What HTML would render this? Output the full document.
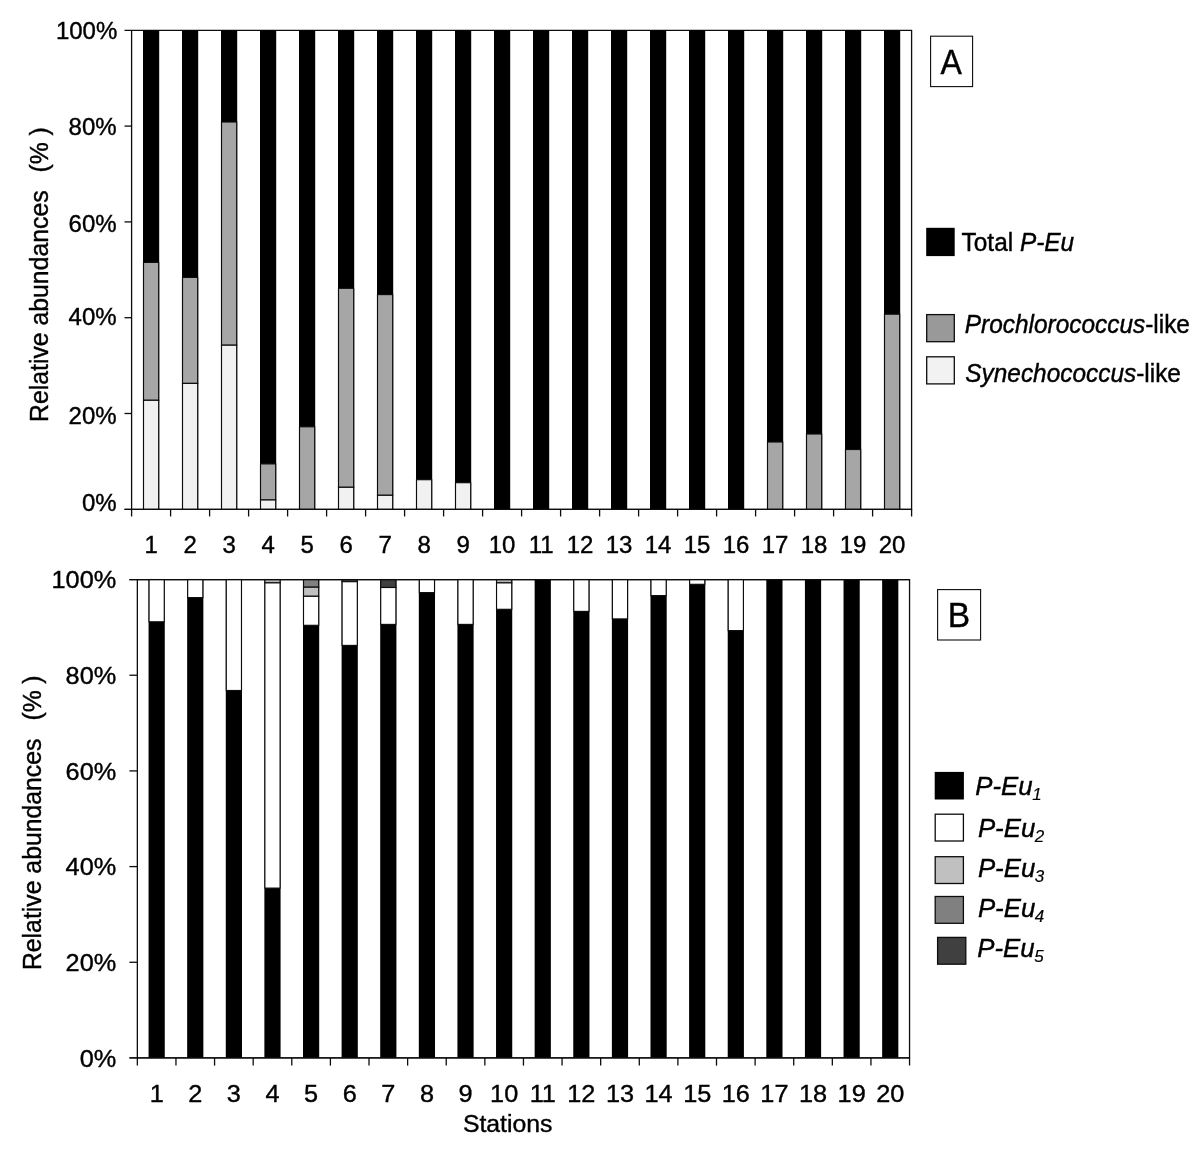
<!DOCTYPE html>
<html lang="en">
<head>
<meta charset="utf-8">
<title>Relative abundances by station</title>
<style>
html,body{margin:0;padding:0;background:#fff;}
body{width:1200px;height:1155px;overflow:hidden;}
svg{display:block;}
svg text{font-family:"Liberation Sans",sans-serif;fill:#000;stroke:#000;stroke-width:0.4px;}
</style>
</head>
<body>
<svg width="1200" height="1155" viewBox="0 0 1200 1155">
<rect x="0" y="0" width="1200" height="1155" fill="#fff"/>
<g id="panelA">
<line x1="124.5" y1="30.3" x2="912.1" y2="30.3" stroke="#0c0c0c" stroke-width="1.3"/>
<line x1="124.5" y1="126.1" x2="131.6" y2="126.1" stroke="#0c0c0c" stroke-width="1.3"/>
<line x1="124.5" y1="221.9" x2="131.6" y2="221.9" stroke="#0c0c0c" stroke-width="1.3"/>
<line x1="124.5" y1="317.7" x2="131.6" y2="317.7" stroke="#0c0c0c" stroke-width="1.3"/>
<line x1="124.5" y1="413.5" x2="131.6" y2="413.5" stroke="#0c0c0c" stroke-width="1.3"/>
<line x1="124.5" y1="509.3" x2="912.1" y2="509.3" stroke="#0c0c0c" stroke-width="1.3"/>
<line x1="131.6" y1="30.3" x2="131.6" y2="516.5" stroke="#0c0c0c" stroke-width="1.3"/>
<line x1="911.6" y1="30.3" x2="911.6" y2="516.5" stroke="#0c0c0c" stroke-width="1.3"/>
<line x1="170.6" y1="509.3" x2="170.6" y2="516.5" stroke="#0c0c0c" stroke-width="1.3"/>
<line x1="209.6" y1="509.3" x2="209.6" y2="516.5" stroke="#0c0c0c" stroke-width="1.3"/>
<line x1="248.6" y1="509.3" x2="248.6" y2="516.5" stroke="#0c0c0c" stroke-width="1.3"/>
<line x1="287.6" y1="509.3" x2="287.6" y2="516.5" stroke="#0c0c0c" stroke-width="1.3"/>
<line x1="326.6" y1="509.3" x2="326.6" y2="516.5" stroke="#0c0c0c" stroke-width="1.3"/>
<line x1="365.6" y1="509.3" x2="365.6" y2="516.5" stroke="#0c0c0c" stroke-width="1.3"/>
<line x1="404.6" y1="509.3" x2="404.6" y2="516.5" stroke="#0c0c0c" stroke-width="1.3"/>
<line x1="443.6" y1="509.3" x2="443.6" y2="516.5" stroke="#0c0c0c" stroke-width="1.3"/>
<line x1="482.6" y1="509.3" x2="482.6" y2="516.5" stroke="#0c0c0c" stroke-width="1.3"/>
<line x1="521.6" y1="509.3" x2="521.6" y2="516.5" stroke="#0c0c0c" stroke-width="1.3"/>
<line x1="560.6" y1="509.3" x2="560.6" y2="516.5" stroke="#0c0c0c" stroke-width="1.3"/>
<line x1="599.6" y1="509.3" x2="599.6" y2="516.5" stroke="#0c0c0c" stroke-width="1.3"/>
<line x1="638.6" y1="509.3" x2="638.6" y2="516.5" stroke="#0c0c0c" stroke-width="1.3"/>
<line x1="677.6" y1="509.3" x2="677.6" y2="516.5" stroke="#0c0c0c" stroke-width="1.3"/>
<line x1="716.6" y1="509.3" x2="716.6" y2="516.5" stroke="#0c0c0c" stroke-width="1.3"/>
<line x1="755.6" y1="509.3" x2="755.6" y2="516.5" stroke="#0c0c0c" stroke-width="1.3"/>
<line x1="794.6" y1="509.3" x2="794.6" y2="516.5" stroke="#0c0c0c" stroke-width="1.3"/>
<line x1="833.6" y1="509.3" x2="833.6" y2="516.5" stroke="#0c0c0c" stroke-width="1.3"/>
<line x1="872.6" y1="509.3" x2="872.6" y2="516.5" stroke="#0c0c0c" stroke-width="1.3"/>
<rect x="143" y="30.3" width="16.2" height="479" fill="#000"/>
<rect x="143.5" y="262.4" width="15.2" height="137.9" fill="#a6a6a6" stroke="#0c0c0c" stroke-width="1.15"/>
<rect x="143.5" y="400.3" width="15.2" height="109" fill="#f1f1f1" stroke="#0c0c0c" stroke-width="1.15"/>
<rect x="182" y="30.3" width="16.2" height="479" fill="#000"/>
<rect x="182.5" y="277.4" width="15.2" height="106" fill="#a6a6a6" stroke="#0c0c0c" stroke-width="1.15"/>
<rect x="182.5" y="383.4" width="15.2" height="125.9" fill="#f1f1f1" stroke="#0c0c0c" stroke-width="1.15"/>
<rect x="221" y="30.3" width="16.2" height="479" fill="#000"/>
<rect x="221.5" y="122" width="15.2" height="223.2" fill="#a6a6a6" stroke="#0c0c0c" stroke-width="1.15"/>
<rect x="221.5" y="345.2" width="15.2" height="164.1" fill="#f1f1f1" stroke="#0c0c0c" stroke-width="1.15"/>
<rect x="260" y="30.3" width="16.2" height="479" fill="#000"/>
<rect x="260.5" y="463.9" width="15.2" height="36.1" fill="#a6a6a6" stroke="#0c0c0c" stroke-width="1.15"/>
<rect x="260.5" y="500" width="15.2" height="9.3" fill="#f1f1f1" stroke="#0c0c0c" stroke-width="1.15"/>
<rect x="299" y="30.3" width="16.2" height="479" fill="#000"/>
<rect x="299.5" y="426.8" width="15.2" height="82.5" fill="#a6a6a6" stroke="#0c0c0c" stroke-width="1.15"/>
<rect x="338" y="30.3" width="16.2" height="479" fill="#000"/>
<rect x="338.5" y="288.3" width="15.2" height="199" fill="#a6a6a6" stroke="#0c0c0c" stroke-width="1.15"/>
<rect x="338.5" y="487.3" width="15.2" height="22" fill="#f1f1f1" stroke="#0c0c0c" stroke-width="1.15"/>
<rect x="377" y="30.3" width="16.2" height="479" fill="#000"/>
<rect x="377.5" y="294.6" width="15.2" height="200.7" fill="#a6a6a6" stroke="#0c0c0c" stroke-width="1.15"/>
<rect x="377.5" y="495.3" width="15.2" height="14" fill="#f1f1f1" stroke="#0c0c0c" stroke-width="1.15"/>
<rect x="416" y="30.3" width="16.2" height="479" fill="#000"/>
<rect x="416.5" y="479.7" width="15.2" height="29.6" fill="#f1f1f1" stroke="#0c0c0c" stroke-width="1.15"/>
<rect x="455" y="30.3" width="16.2" height="479" fill="#000"/>
<rect x="455.5" y="482.7" width="15.2" height="26.6" fill="#f1f1f1" stroke="#0c0c0c" stroke-width="1.15"/>
<rect x="494" y="30.3" width="16.2" height="479" fill="#000"/>
<rect x="533" y="30.3" width="16.2" height="479" fill="#000"/>
<rect x="572" y="30.3" width="16.2" height="479" fill="#000"/>
<rect x="611" y="30.3" width="16.2" height="479" fill="#000"/>
<rect x="650" y="30.3" width="16.2" height="479" fill="#000"/>
<rect x="689" y="30.3" width="16.2" height="479" fill="#000"/>
<rect x="728" y="30.3" width="16.2" height="479" fill="#000"/>
<rect x="767" y="30.3" width="16.2" height="479" fill="#000"/>
<rect x="767.5" y="442" width="15.2" height="67.3" fill="#a6a6a6" stroke="#0c0c0c" stroke-width="1.15"/>
<rect x="806" y="30.3" width="16.2" height="479" fill="#000"/>
<rect x="806.5" y="434" width="15.2" height="75.3" fill="#a6a6a6" stroke="#0c0c0c" stroke-width="1.15"/>
<rect x="845" y="30.3" width="16.2" height="479" fill="#000"/>
<rect x="845.5" y="449.5" width="15.2" height="59.8" fill="#a6a6a6" stroke="#0c0c0c" stroke-width="1.15"/>
<rect x="884" y="30.3" width="16.2" height="479" fill="#000"/>
<rect x="884.5" y="314.2" width="15.2" height="195.1" fill="#a6a6a6" stroke="#0c0c0c" stroke-width="1.15"/>
<line x1="124.5" y1="509.3" x2="912.1" y2="509.3" stroke="#0c0c0c" stroke-width="1.3"/>
</g>
<g id="panelB">
<line x1="129.4" y1="579.55" x2="910.05" y2="579.55" stroke="#0c0c0c" stroke-width="1.3"/>
<line x1="129.4" y1="675.23" x2="137.35" y2="675.23" stroke="#0c0c0c" stroke-width="1.3"/>
<line x1="129.4" y1="770.91" x2="137.35" y2="770.91" stroke="#0c0c0c" stroke-width="1.3"/>
<line x1="129.4" y1="866.59" x2="137.35" y2="866.59" stroke="#0c0c0c" stroke-width="1.3"/>
<line x1="129.4" y1="962.27" x2="137.35" y2="962.27" stroke="#0c0c0c" stroke-width="1.3"/>
<line x1="129.4" y1="1057.95" x2="910.05" y2="1057.95" stroke="#0c0c0c" stroke-width="1.3"/>
<line x1="137.35" y1="579.55" x2="137.35" y2="1065.6" stroke="#0c0c0c" stroke-width="1.3"/>
<line x1="909.55" y1="579.55" x2="909.55" y2="1065.6" stroke="#0c0c0c" stroke-width="1.3"/>
<line x1="175.96" y1="1057.95" x2="175.96" y2="1065.6" stroke="#0c0c0c" stroke-width="1.3"/>
<line x1="214.57" y1="1057.95" x2="214.57" y2="1065.6" stroke="#0c0c0c" stroke-width="1.3"/>
<line x1="253.18" y1="1057.95" x2="253.18" y2="1065.6" stroke="#0c0c0c" stroke-width="1.3"/>
<line x1="291.79" y1="1057.95" x2="291.79" y2="1065.6" stroke="#0c0c0c" stroke-width="1.3"/>
<line x1="330.4" y1="1057.95" x2="330.4" y2="1065.6" stroke="#0c0c0c" stroke-width="1.3"/>
<line x1="369.01" y1="1057.95" x2="369.01" y2="1065.6" stroke="#0c0c0c" stroke-width="1.3"/>
<line x1="407.62" y1="1057.95" x2="407.62" y2="1065.6" stroke="#0c0c0c" stroke-width="1.3"/>
<line x1="446.23" y1="1057.95" x2="446.23" y2="1065.6" stroke="#0c0c0c" stroke-width="1.3"/>
<line x1="484.84" y1="1057.95" x2="484.84" y2="1065.6" stroke="#0c0c0c" stroke-width="1.3"/>
<line x1="523.45" y1="1057.95" x2="523.45" y2="1065.6" stroke="#0c0c0c" stroke-width="1.3"/>
<line x1="562.06" y1="1057.95" x2="562.06" y2="1065.6" stroke="#0c0c0c" stroke-width="1.3"/>
<line x1="600.67" y1="1057.95" x2="600.67" y2="1065.6" stroke="#0c0c0c" stroke-width="1.3"/>
<line x1="639.28" y1="1057.95" x2="639.28" y2="1065.6" stroke="#0c0c0c" stroke-width="1.3"/>
<line x1="677.89" y1="1057.95" x2="677.89" y2="1065.6" stroke="#0c0c0c" stroke-width="1.3"/>
<line x1="716.5" y1="1057.95" x2="716.5" y2="1065.6" stroke="#0c0c0c" stroke-width="1.3"/>
<line x1="755.11" y1="1057.95" x2="755.11" y2="1065.6" stroke="#0c0c0c" stroke-width="1.3"/>
<line x1="793.72" y1="1057.95" x2="793.72" y2="1065.6" stroke="#0c0c0c" stroke-width="1.3"/>
<line x1="832.33" y1="1057.95" x2="832.33" y2="1065.6" stroke="#0c0c0c" stroke-width="1.3"/>
<line x1="870.94" y1="1057.95" x2="870.94" y2="1065.6" stroke="#0c0c0c" stroke-width="1.3"/>
<rect x="148.56" y="579.55" width="16.2" height="478.4" fill="#000"/>
<rect x="149.06" y="579.55" width="15.2" height="42.25" fill="#fff" stroke="#0c0c0c" stroke-width="1.15"/>
<rect x="187.16" y="579.55" width="16.2" height="478.4" fill="#000"/>
<rect x="187.66" y="579.55" width="15.2" height="18.05" fill="#fff" stroke="#0c0c0c" stroke-width="1.15"/>
<rect x="225.78" y="579.55" width="16.2" height="478.4" fill="#000"/>
<rect x="226.28" y="579.55" width="15.2" height="110.95" fill="#fff" stroke="#0c0c0c" stroke-width="1.15"/>
<rect x="264.38" y="579.55" width="16.2" height="478.4" fill="#000"/>
<rect x="264.88" y="579.55" width="15.2" height="3.35" fill="#b4b4b4" stroke="#0c0c0c" stroke-width="1.15"/>
<rect x="264.88" y="582.9" width="15.2" height="305.2" fill="#fff" stroke="#0c0c0c" stroke-width="1.15"/>
<rect x="303" y="579.55" width="16.2" height="478.4" fill="#000"/>
<rect x="303.5" y="579.55" width="15.2" height="7.65" fill="#808080" stroke="#0c0c0c" stroke-width="1.15"/>
<rect x="303.5" y="587.2" width="15.2" height="9.1" fill="#c0c0c0" stroke="#0c0c0c" stroke-width="1.15"/>
<rect x="303.5" y="596.3" width="15.2" height="29" fill="#fff" stroke="#0c0c0c" stroke-width="1.15"/>
<rect x="341.6" y="579.55" width="16.2" height="478.4" fill="#000"/>
<rect x="342.1" y="579.55" width="15.2" height="2.15" fill="#404040" stroke="#0c0c0c" stroke-width="1.15"/>
<rect x="342.1" y="581.7" width="15.2" height="63.7" fill="#fff" stroke="#0c0c0c" stroke-width="1.15"/>
<rect x="380.21" y="579.55" width="16.2" height="478.4" fill="#000"/>
<rect x="380.71" y="579.55" width="15.2" height="7.95" fill="#404040" stroke="#0c0c0c" stroke-width="1.15"/>
<rect x="380.71" y="587.5" width="15.2" height="36.9" fill="#fff" stroke="#0c0c0c" stroke-width="1.15"/>
<rect x="418.82" y="579.55" width="16.2" height="478.4" fill="#000"/>
<rect x="419.32" y="579.55" width="15.2" height="13.05" fill="#fff" stroke="#0c0c0c" stroke-width="1.15"/>
<rect x="457.43" y="579.55" width="16.2" height="478.4" fill="#000"/>
<rect x="457.93" y="579.55" width="15.2" height="44.85" fill="#fff" stroke="#0c0c0c" stroke-width="1.15"/>
<rect x="496.04" y="579.55" width="16.2" height="478.4" fill="#000"/>
<rect x="496.54" y="579.55" width="15.2" height="3.35" fill="#b4b4b4" stroke="#0c0c0c" stroke-width="1.15"/>
<rect x="496.54" y="582.9" width="15.2" height="26.4" fill="#fff" stroke="#0c0c0c" stroke-width="1.15"/>
<rect x="534.65" y="579.55" width="16.2" height="478.4" fill="#000"/>
<rect x="573.26" y="579.55" width="16.2" height="478.4" fill="#000"/>
<rect x="573.76" y="579.55" width="15.2" height="31.85" fill="#fff" stroke="#0c0c0c" stroke-width="1.15"/>
<rect x="611.88" y="579.55" width="16.2" height="478.4" fill="#000"/>
<rect x="612.38" y="579.55" width="15.2" height="39.35" fill="#fff" stroke="#0c0c0c" stroke-width="1.15"/>
<rect x="650.49" y="579.55" width="16.2" height="478.4" fill="#000"/>
<rect x="650.99" y="579.55" width="15.2" height="16.05" fill="#fff" stroke="#0c0c0c" stroke-width="1.15"/>
<rect x="689.1" y="579.55" width="16.2" height="478.4" fill="#000"/>
<rect x="689.6" y="579.55" width="15.2" height="4.75" fill="#fff" stroke="#0c0c0c" stroke-width="1.15"/>
<rect x="727.71" y="579.55" width="16.2" height="478.4" fill="#000"/>
<rect x="728.21" y="579.55" width="15.2" height="51.05" fill="#fff" stroke="#0c0c0c" stroke-width="1.15"/>
<rect x="766.31" y="579.55" width="16.2" height="478.4" fill="#000"/>
<rect x="804.92" y="579.55" width="16.2" height="478.4" fill="#000"/>
<rect x="843.53" y="579.55" width="16.2" height="478.4" fill="#000"/>
<rect x="882.14" y="579.55" width="16.2" height="478.4" fill="#000"/>
<line x1="129.4" y1="1057.95" x2="910.05" y2="1057.95" stroke="#0c0c0c" stroke-width="1.3"/>
<line x1="129.4" y1="579.55" x2="910.05" y2="579.55" stroke="#0c0c0c" stroke-width="1.3"/>
</g>
<text transform="translate(117.3 39.3) scale(1 1.01)" font-size="24" text-anchor="end">100%</text>
<text transform="translate(116.6 135) scale(1 1.01)" font-size="24" text-anchor="end">80%</text>
<text transform="translate(116.6 231.6) scale(1 1.01)" font-size="24" text-anchor="end">60%</text>
<text transform="translate(116.6 324.7) scale(1 1.01)" font-size="24" text-anchor="end">40%</text>
<text transform="translate(116.6 424) scale(1 1.01)" font-size="24" text-anchor="end">20%</text>
<text transform="translate(116.6 510.5) scale(1 1.01)" font-size="24" text-anchor="end">0%</text>
<text transform="translate(116.2 587.8) scale(1 0.975)" font-size="25.3" text-anchor="end">100%</text>
<text transform="translate(116.2 683.5) scale(1 0.975)" font-size="25.3" text-anchor="end">80%</text>
<text transform="translate(116.2 779.7) scale(1 0.975)" font-size="25.3" text-anchor="end">60%</text>
<text transform="translate(116.2 875) scale(1 0.975)" font-size="25.3" text-anchor="end">40%</text>
<text transform="translate(116.2 971.2) scale(1 0.975)" font-size="25.3" text-anchor="end">20%</text>
<text transform="translate(116.2 1067.2) scale(1 0.975)" font-size="25.3" text-anchor="end">0%</text>
<text transform="translate(151.1 553.3) scale(1 1.01)" font-size="24" text-anchor="middle">1</text>
<text transform="translate(156.66 1101.6) scale(1 0.975)" font-size="25.3" text-anchor="middle">1</text>
<text transform="translate(190.1 553.3) scale(1 1.01)" font-size="24" text-anchor="middle">2</text>
<text transform="translate(195.26 1101.6) scale(1 0.975)" font-size="25.3" text-anchor="middle">2</text>
<text transform="translate(229.1 553.3) scale(1 1.01)" font-size="24" text-anchor="middle">3</text>
<text transform="translate(233.88 1101.6) scale(1 0.975)" font-size="25.3" text-anchor="middle">3</text>
<text transform="translate(268.1 553.3) scale(1 1.01)" font-size="24" text-anchor="middle">4</text>
<text transform="translate(272.49 1101.6) scale(1 0.975)" font-size="25.3" text-anchor="middle">4</text>
<text transform="translate(307.1 553.3) scale(1 1.01)" font-size="24" text-anchor="middle">5</text>
<text transform="translate(311.1 1101.6) scale(1 0.975)" font-size="25.3" text-anchor="middle">5</text>
<text transform="translate(346.1 553.3) scale(1 1.01)" font-size="24" text-anchor="middle">6</text>
<text transform="translate(349.7 1101.6) scale(1 0.975)" font-size="25.3" text-anchor="middle">6</text>
<text transform="translate(385.1 553.3) scale(1 1.01)" font-size="24" text-anchor="middle">7</text>
<text transform="translate(388.31 1101.6) scale(1 0.975)" font-size="25.3" text-anchor="middle">7</text>
<text transform="translate(424.1 553.3) scale(1 1.01)" font-size="24" text-anchor="middle">8</text>
<text transform="translate(426.92 1101.6) scale(1 0.975)" font-size="25.3" text-anchor="middle">8</text>
<text transform="translate(463.1 553.3) scale(1 1.01)" font-size="24" text-anchor="middle">9</text>
<text transform="translate(465.53 1101.6) scale(1 0.975)" font-size="25.3" text-anchor="middle">9</text>
<text transform="translate(502.1 553.3) scale(1 1.01)" font-size="24" text-anchor="middle">10</text>
<text transform="translate(504.14 1101.6) scale(1 0.975)" font-size="25.3" text-anchor="middle">10</text>
<text transform="translate(541.1 553.3) scale(1 1.01)" font-size="24" text-anchor="middle">11</text>
<text transform="translate(542.75 1101.6) scale(1 0.975)" font-size="25.3" text-anchor="middle">11</text>
<text transform="translate(580.1 553.3) scale(1 1.01)" font-size="24" text-anchor="middle">12</text>
<text transform="translate(581.37 1101.6) scale(1 0.975)" font-size="25.3" text-anchor="middle">12</text>
<text transform="translate(619.1 553.3) scale(1 1.01)" font-size="24" text-anchor="middle">13</text>
<text transform="translate(619.98 1101.6) scale(1 0.975)" font-size="25.3" text-anchor="middle">13</text>
<text transform="translate(658.1 553.3) scale(1 1.01)" font-size="24" text-anchor="middle">14</text>
<text transform="translate(658.59 1101.6) scale(1 0.975)" font-size="25.3" text-anchor="middle">14</text>
<text transform="translate(697.1 553.3) scale(1 1.01)" font-size="24" text-anchor="middle">15</text>
<text transform="translate(697.2 1101.6) scale(1 0.975)" font-size="25.3" text-anchor="middle">15</text>
<text transform="translate(736.1 553.3) scale(1 1.01)" font-size="24" text-anchor="middle">16</text>
<text transform="translate(735.81 1101.6) scale(1 0.975)" font-size="25.3" text-anchor="middle">16</text>
<text transform="translate(775.1 553.3) scale(1 1.01)" font-size="24" text-anchor="middle">17</text>
<text transform="translate(774.41 1101.6) scale(1 0.975)" font-size="25.3" text-anchor="middle">17</text>
<text transform="translate(814.1 553.3) scale(1 1.01)" font-size="24" text-anchor="middle">18</text>
<text transform="translate(813.02 1101.6) scale(1 0.975)" font-size="25.3" text-anchor="middle">18</text>
<text transform="translate(853.1 553.3) scale(1 1.01)" font-size="24" text-anchor="middle">19</text>
<text transform="translate(851.63 1101.6) scale(1 0.975)" font-size="25.3" text-anchor="middle">19</text>
<text transform="translate(892.1 553.3) scale(1 1.01)" font-size="24" text-anchor="middle">20</text>
<text transform="translate(890.25 1101.6) scale(1 0.975)" font-size="25.3" text-anchor="middle">20</text>
<text transform="translate(507.7 1132.2) scale(1 1.0)" font-size="24.8" text-anchor="middle">Stations</text>
<text transform="translate(47.8 422) rotate(-90) scale(1 1.04)" font-size="24.8">Relative abundances<tspan dx="18">(%</tspan><tspan dx="6.5">)</tspan></text>
<text transform="translate(40.6 970.1) rotate(-90) scale(1 1.065)" font-size="24.8">Relative abundances<tspan dx="18">(%</tspan><tspan dx="6.5">)</tspan></text>
<rect x="930.6" y="36.2" width="42" height="50.4" fill="#fff" stroke="#0c0c0c" stroke-width="1.1"/>
<text transform="translate(951.2 74) scale(1 1.085)" font-size="32" text-anchor="middle">A</text>
<rect x="937.6" y="589.6" width="43" height="50.4" fill="#fff" stroke="#0c0c0c" stroke-width="1.1"/>
<text transform="translate(958.8 627) scale(1 1.035)" font-size="33.5" text-anchor="middle">B</text>
<rect x="926.2" y="227.8" width="28.5" height="28.3" fill="#000"/>
<rect x="926.7" y="314.6" width="27.6" height="27.1" fill="#999" stroke="#0c0c0c" stroke-width="1.3"/>
<rect x="926.7" y="356.8" width="27.6" height="27.1" fill="#f2f2f2" stroke="#0c0c0c" stroke-width="1.3"/>
<text transform="translate(961.6 251.2) scale(1 1.035)" font-size="24.4" text-anchor="start">Total <tspan font-style="italic">P-Eu</tspan></text>
<text transform="translate(964.8 333.3) scale(1 1.035)" font-size="24.4" text-anchor="start"><tspan font-style="italic">Prochlorococcus</tspan>-like</text>
<text transform="translate(965.3 381.9) scale(1 1.035)" font-size="24.4" text-anchor="start"><tspan font-style="italic">Synechococcus</tspan>-like</text>
<rect x="934.7" y="771.9" width="29.2" height="27.6" fill="#000"/>
<text transform="translate(975.3 795.4) scale(1 0.975)" font-size="25.8" text-anchor="start" font-style="italic">P-Eu<tspan font-size="17" dy="5" dx="-0.4" stroke-width="0.2">1</tspan></text>
<rect x="935.2" y="814.2" width="28.2" height="26.8" fill="#fff" stroke="#0c0c0c" stroke-width="1.3"/>
<text transform="translate(977.9 837) scale(1 0.975)" font-size="25.8" text-anchor="start" font-style="italic">P-Eu<tspan font-size="17" dy="5" dx="-0.4" stroke-width="0.2">2</tspan></text>
<rect x="935.2" y="856.7" width="28.2" height="26.8" fill="#c0c0c0" stroke="#0c0c0c" stroke-width="1.3"/>
<text transform="translate(977.9 876.9) scale(1 0.975)" font-size="25.8" text-anchor="start" font-style="italic">P-Eu<tspan font-size="17" dy="5" dx="-0.4" stroke-width="0.2">3</tspan></text>
<rect x="935.2" y="896.5" width="28.2" height="26.8" fill="#808080" stroke="#0c0c0c" stroke-width="1.3"/>
<text transform="translate(977.9 916.7) scale(1 0.975)" font-size="25.8" text-anchor="start" font-style="italic">P-Eu<tspan font-size="17" dy="5" dx="-0.4" stroke-width="0.2">4</tspan></text>
<rect x="937.6" y="937.4" width="28.2" height="26.8" fill="#404040" stroke="#0c0c0c" stroke-width="1.3"/>
<text transform="translate(977.3 957.2) scale(1 0.975)" font-size="25.8" text-anchor="start" font-style="italic">P-Eu<tspan font-size="17" dy="5" dx="-0.4" stroke-width="0.2">5</tspan></text>
</svg>
</body>
</html>
